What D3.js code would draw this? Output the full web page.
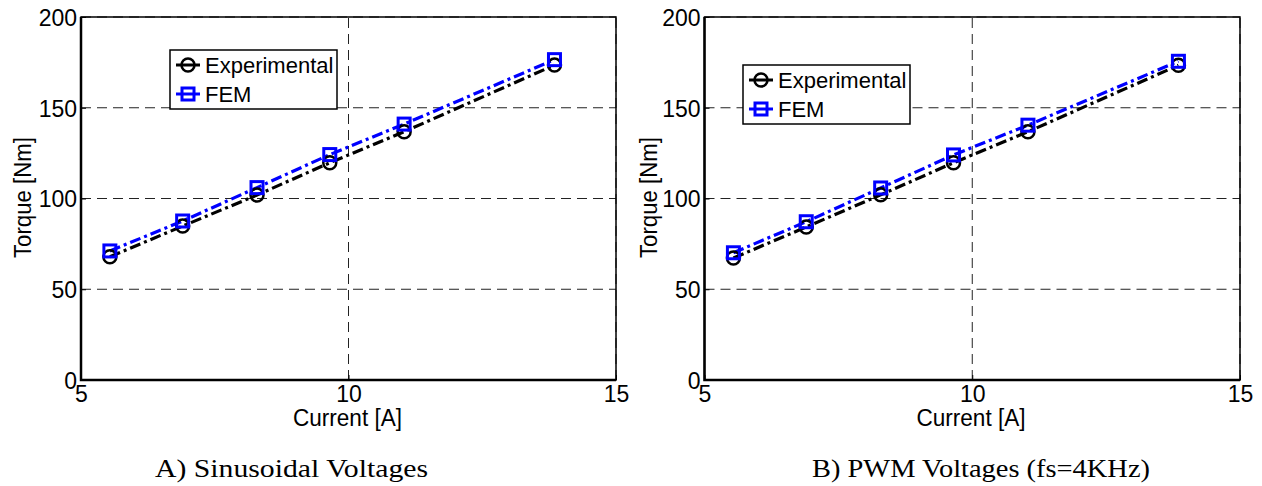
<!DOCTYPE html>
<html>
<head>
<meta charset="utf-8">
<script src="https://cdn.jsdelivr.net/npm/d3@7"></script>
<style>
  body { margin: 0; background: #fff; }
  svg { display: block; }
  .tick text { font-family: "Liberation Sans", Arial, sans-serif; font-size: 23px; fill: #000; }
  .label { font-family: "Liberation Sans", Arial, sans-serif; font-size: 23px; fill: #000; }
  .caption { font-family: "Liberation Serif", serif; font-size: 26px; fill: #000; }
  .legend text { font-family: "Liberation Sans", Arial, sans-serif; font-size: 22px; fill: #000; }
</style>
</head>
<body>
<svg id="chart" width="1262" height="486"></svg>
<script>
/*** Data ***/
const current = [5.54, 6.9, 8.29, 9.65, 11.04, 13.85];
const expSine = [67.9, 84.8, 101.9, 119.7, 136.8, 173.5];
const femSine = [71.1, 87.6, 106.0, 124.2, 141.0, 176.5];
const expPwm = [67.2, 84.3, 102.0, 119.7, 136.8, 173.4];
const femPwm = [70.1, 87.2, 105.8, 124.0, 140.4, 175.6];
const xTicks = [5, 10, 15];
const yTicks = [0, 50, 100, 150, 200];
const seriesNames = ["Experimental", "FEM"];
const captions = ["A) Sinusoidal Voltages", "B) PWM Voltages (fs=4KHz)"];

const svg = d3.select("#chart");

/*** Panel Drawing ***/
function drawPanel(p) {
  let x = d3.scaleLinear().domain([5, 15]).range([p.left, p.right]);
  let y = d3.scaleLinear().domain([0, 200]).range([380, 17]);
  let g = svg.append("g");

  // Dashed grid
  g.selectAll(".gy").data(yTicks).enter()
      .append("line")
          .attr("x1", p.left).attr("x2", p.right)
          .attr("y1", d => y(d)).attr("y2", d => y(d))
          .attr("stroke", "#222").attr("stroke-width", 1)
          .attr("stroke-dasharray", "10,6");
  g.selectAll(".gx").data(xTicks).enter()
      .append("line")
          .attr("x1", d => x(d)).attr("x2", d => x(d))
          .attr("y1", y(0)).attr("y2", y(200))
          .attr("stroke", "#222").attr("stroke-width", 1)
          .attr("stroke-dasharray", "10,6");

  // Axes (ticks point inward, like MATLAB)
  let ax = g.append("g")
      .attr("transform", "translate(0," + y(0) + ")")
      .call(d3.axisBottom(x).tickValues(xTicks).tickSize(-5).tickPadding(6));
  let ay = g.append("g")
      .attr("transform", "translate(" + p.left + ",0)")
      .call(d3.axisLeft(y).tickValues(yTicks).tickSize(-5).tickPadding(4));
  ax.select(".domain").remove();
  ay.select(".domain").remove();
  g.selectAll(".tick line").attr("stroke", "#000");
  g.selectAll(".tick text").attr("font-family", null).attr("font-size", null);
  ay.selectAll(".tick text").attr("dy", "0.36em");

  // Box
  g.append("rect")
      .attr("x", p.left).attr("y", y(200))
      .attr("width", p.right - p.left).attr("height", y(0) - y(200))
      .attr("fill", "none").attr("stroke", "#000").attr("stroke-width", 1.5);
  g.append("path")
      .attr("d", "M" + p.left + "," + y(200) + "V" + y(0) + "H" + p.right)
      .attr("fill", "none").attr("stroke", "#000").attr("stroke-width", 2.5);

  // Series lines
  let line = d3.line().x((d, i) => x(current[i])).y(d => y(d));
  g.append("path").datum(p.exp)
      .attr("d", line).attr("fill", "none")
      .attr("stroke", "#000").attr("stroke-width", 3.2)
      .attr("stroke-dasharray", "11,4,3,4");
  g.append("path").datum(p.fem)
      .attr("d", line).attr("fill", "none")
      .attr("stroke", "#0000ff").attr("stroke-width", 3.2)
      .attr("stroke-dasharray", "11,4,3,4");

  // Markers
  g.selectAll(".circ").data(p.exp).enter()
      .append("circle")
          .attr("cx", (d, i) => x(current[i])).attr("cy", d => y(d))
          .attr("r", 6.5).attr("fill", "none")
          .attr("stroke", "#000").attr("stroke-width", 2.5);
  g.selectAll(".sq").data(p.fem).enter()
      .append("rect")
          .attr("x", (d, i) => x(current[i]) - 6).attr("y", d => y(d) - 6)
          .attr("width", 12).attr("height", 12).attr("fill", "none")
          .attr("stroke", "#0000ff").attr("stroke-width", 3);

  // Axis labels
  g.append("text").attr("class", "label")
      .attr("x", p.xLabelX).attr("y", 426)
      .attr("text-anchor", "middle")
      .attr("textLength", 109).attr("lengthAdjust", "spacingAndGlyphs")
      .text("Current [A]");
  g.append("text").attr("class", "label")
      .attr("transform", "translate(" + p.yLabelX + ",197.5) rotate(-90)")
      .attr("text-anchor", "middle")
      .attr("textLength", 121).attr("lengthAdjust", "spacingAndGlyphs")
      .text("Torque [Nm]");

  // Legend
  let lg = g.append("g").attr("class", "legend")
      .attr("transform", "translate(" + p.legX + "," + p.legY + ")");
  lg.append("rect")
      .attr("width", 167).attr("height", 59)
      .attr("fill", "#fff").attr("stroke", "#000").attr("stroke-width", 1.5);
  let rows = lg.selectAll(".row").data(seriesNames).enter()
      .append("g")
          .attr("transform", (d, i) => "translate(0," + (15 + i * 29) + ")");
  rows.append("line")
      .attr("x1", 6).attr("x2", 30)
      .attr("stroke", (d, i) => i == 0 ? "#000" : "#0000ff")
      .attr("stroke-width", 3);
  rows.filter((d, i) => i == 0).append("circle")
      .attr("cx", 18).attr("r", 6.5).attr("fill", "none")
      .attr("stroke", "#000").attr("stroke-width", 2.5);
  rows.filter((d, i) => i == 1).append("rect")
      .attr("x", 12).attr("y", -6).attr("width", 12).attr("height", 12)
      .attr("fill", "none").attr("stroke", "#0000ff").attr("stroke-width", 3);
  rows.append("text")
      .attr("x", 35).attr("dy", "0.36em")
      .text(d => d);

  // Caption below the panel
  g.append("text").attr("class", "caption")
      .attr("x", p.capX).attr("y", 477)
      .attr("textLength", p.capLen).attr("lengthAdjust", "spacingAndGlyphs")
      .text(p.caption);
}

drawPanel({
  left: 81, right: 616, exp: expSine, fem: femSine,
  xLabelX: 347.5, yLabelX: 31,
  legX: 170, legY: 50, caption: captions[0], capX: 155, capLen: 273
});
drawPanel({
  left: 704.5, right: 1240, exp: expPwm, fem: femPwm,
  xLabelX: 971, yLabelX: 657,
  legX: 743, legY: 65, caption: captions[1], capX: 812, capLen: 338
});
</script>
</body>
</html>
